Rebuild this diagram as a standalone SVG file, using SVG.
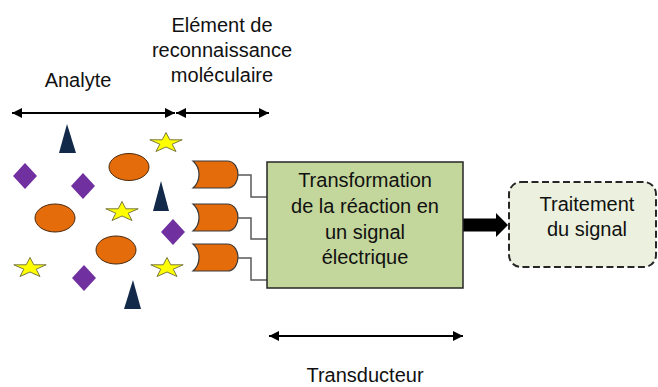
<svg xmlns="http://www.w3.org/2000/svg" width="658" height="387" viewBox="0 0 658 387">
<style>
text{font-family:"Liberation Sans",Arial,sans-serif;font-size:20px;fill:#111;text-anchor:middle}
.tri{fill:#12294a}
.dia{fill:#7030a0}
.ell{fill:#e46c0a;stroke:#4a2a10;stroke-width:1}
.star{fill:#ffff00;stroke:#7a7a40;stroke-width:1}
.rec{fill:#e46c0a;stroke:#3a3a3a;stroke-width:1.2}
.wire{fill:none;stroke:#595959;stroke-width:1.5}
.dim{stroke:#000;stroke-width:1.8;fill:none;marker-start:url(#ah);marker-end:url(#ah)}
</style>
<defs>
<marker id="ah" viewBox="0 0 10 10" refX="10" refY="5" markerWidth="10" markerHeight="10" markerUnits="userSpaceOnUse" orient="auto-start-reverse">
<path d="M0,0 L10,5 L0,10 Z" fill="#000"/>
</marker>
<polygon id="star" points="0,-10.5 3.8,-3.2 16.2,-3.2 6.2,1.2 10,8.5 0,4 -10,8.5 -6.2,1.2 -16.2,-3.2 -3.8,-3.2"/>
<path id="rec" d="M0,0 H34 C42,0 45,8 45,13.5 C45,19 42,27 34,27 H0 C8,20 8,7 0,0 Z"/>
</defs>

<g id="labels">
<text x="78" y="87">Analyte</text>
<text x="222" y="32">Elément de</text>
<text x="222" y="57">reconnaissance</text>
<text x="222" y="82">moléculaire</text>
<text x="365" y="382">Transducteur</text>
</g>

<g id="dimensions">
<line class="dim" x1="12" y1="113" x2="175" y2="113"/>
<line class="dim" x1="176" y1="113" x2="269" y2="113"/>
<line class="dim" x1="269" y1="336" x2="463" y2="336"/>
</g>

<g id="analytes">
<polygon class="tri" points="67,124 59,153 76,153"/>
<polygon class="tri" points="161,181 153,211 169,211"/>
<polygon class="tri" points="133,280 124,309 141,309"/>
<polygon class="dia" points="25,163 37,176 25,189 13,176"/>
<polygon class="dia" points="83,173 95,186 83,199 71,186"/>
<polygon class="dia" points="173,219 185,232 173,245 161,232"/>
<polygon class="dia" points="84,265 96,278 84,291 72,278"/>
<ellipse class="ell" cx="129" cy="167" rx="20" ry="13.5"/>
<ellipse class="ell" cx="55" cy="218" rx="20" ry="14"/>
<ellipse class="ell" cx="116" cy="250" rx="20" ry="14"/>
<use href="#star" class="star" x="166" y="143"/>
<use href="#star" class="star" x="122" y="212"/>
<use href="#star" class="star" x="30" y="268"/>
<use href="#star" class="star" x="167" y="268"/>
</g>

<g id="receptors">
<use href="#rec" class="rec" x="193" y="161"/>
<use href="#rec" class="rec" x="193" y="204"/>
<use href="#rec" class="rec" x="193" y="244"/>
</g>

<g id="connectors">
<polyline class="wire" points="238,175 251,175 251,197 267,197"/>
<polyline class="wire" points="238,218 251,218 251,239 267,239"/>
<polyline class="wire" points="238,258 251,258 251,280 267,280"/>
<path d="M463,218.5 H496 V213 L508,225 L496,237 V231.5 H463 Z" fill="#000"/>
</g>

<g id="transducteur">
<rect x="267" y="162" width="196" height="126" fill="#c3d69b" stroke="#262626" stroke-width="1.5"/>
<text x="365" y="187">Transformation</text>
<text x="365" y="213">de la réaction en</text>
<text x="365" y="239">un signal</text>
<text x="365" y="264">électrique</text>
</g>

<g id="traitement">
<rect x="509" y="182" width="147" height="85" rx="12" fill="#ebf1de" stroke="#262626" stroke-width="2" stroke-dasharray="7,3.5"/>
<text x="587" y="211">Traitement</text>
<text x="587" y="236">du signal</text>
</g>
</svg>
